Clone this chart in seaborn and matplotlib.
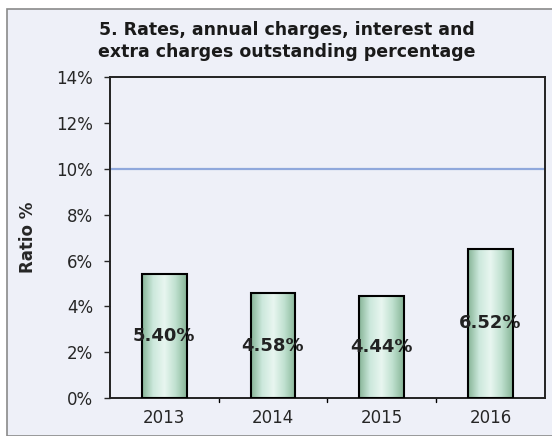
import numpy as np
import pandas as pd
import seaborn as sns
import matplotlib.pyplot as plt
from matplotlib.colors import LinearSegmentedColormap
from matplotlib.patches import Rectangle

years = ['2013', '2014', '2015', '2016']
ratios = [5.40, 4.58, 4.44, 6.52]
bar_labels = ['5.40%', '4.58%', '4.44%', '6.52%']
y_ticks = [0, 2, 4, 6, 8, 10, 12, 14]
target_line = 10

bg = '#eef0f8'

sns.set_style('white')
plt.rcParams['font.family'] = ['DejaVu Sans']

fig = plt.figure(figsize=(5.52, 4.36), dpi=100, facecolor='white')
ax = fig.add_axes([0.199, 0.087, 0.788, 0.736])
fig.patches.append(Rectangle((7 / 552, 0), 1.0, 1 - 9 / 436, transform=fig.transFigure,
                             facecolor=bg, edgecolor='#8a8a8a', linewidth=1.2, zorder=-10))
ax.set_facecolor(bg)

df = pd.DataFrame({'year': years, 'ratio': ratios})
sns.barplot(data=df, x='year', y='ratio', width=0.41, color='#c8e4d8',
            edgecolor='black', linewidth=1.5, ax=ax, zorder=3)

# horizontal gradient fill for each bar
cmap = LinearSegmentedColormap.from_list('bar', ['#86b496', '#cce8dc', '#e8f6f0', '#bfe0cf', '#86b496'])
grad = np.linspace(0, 1, 256).reshape(1, -1)
for p in ax.patches:
    x0, w, h = p.get_x(), p.get_width(), p.get_height()
    im = ax.imshow(grad, cmap=cmap, aspect='auto', extent=(x0, x0 + w, 0, h), zorder=2.5)
    im.set_clip_path(p)
    p.set_facecolor('none')

ax.axhline(target_line, color='#8fa8dc', linewidth=1.6, zorder=1)

for i, (v, lab) in enumerate(zip(ratios, bar_labels)):
    ax.text(i, v / 2, lab, ha='center', va='center', fontsize=13, fontweight='bold',
            color='#222222', zorder=5)

ax.set_ylim(0, 14)
ax.set_xlim(-0.5, 3.5)
ax.set_yticks(y_ticks)
ax.set_yticklabels([f'{t}%' for t in y_ticks], fontsize=12)
ax.tick_params(axis='y', length=4, width=1, direction='out', pad=8, left=True)
ax.set_xticks(range(4))
ax.set_xticklabels(years, fontsize=12)
ax.tick_params(axis='x', length=0, pad=8)
for b in [0.5, 1.5, 2.5]:
    ax.plot([b, b], [0, -0.15], color='black', lw=1, clip_on=False)
ax.set_xlabel('')
ax.set_ylabel('Ratio %', fontsize=12, fontweight='bold', labelpad=14)

for s in ax.spines.values():
    s.set_visible(True)
    s.set_color('#222222')
    s.set_linewidth(1.4)

fig.text(0.52, 0.952, '5. Rates, annual charges, interest and\nextra charges outstanding percentage',
         ha='center', va='top', fontsize=12.5, fontweight='bold', color='#1a1a1a', linespacing=1.3)

fig.savefig('out.png', dpi=100)
